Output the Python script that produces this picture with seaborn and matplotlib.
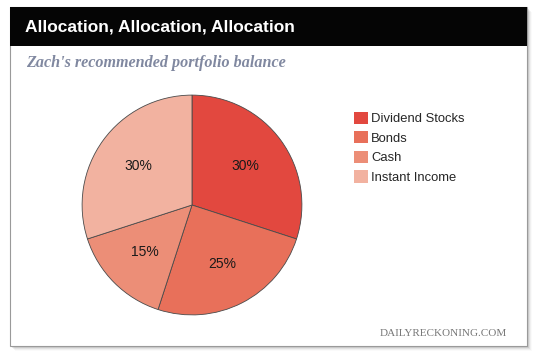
import matplotlib
matplotlib.use("Agg")
import matplotlib.pyplot as plt
import seaborn as sns
from matplotlib.patches import Rectangle, Patch

labels = ["Dividend Stocks", "Bonds", "Cash", "Instant Income"]
shares = [30, 25, 15, 30]
colors = ["#E2483F", "#E8705A", "#EC8E77", "#F2B2A0"]

sns.set_theme(style="white")
plt.rcParams["font.family"] = ["Liberation Sans", "DejaVu Sans"]

W, H = 540, 353
fig = plt.figure(figsize=(W / 100, H / 100), dpi=100)
fig.patch.set_facecolor("white")

def px(x, y):
    return x / W, 1 - y / H

# card box in pixels
x0, y0, x1, y1 = 10, 7, 527, 346

# drop shadow of the card
for i, a in enumerate([0.12, 0.09, 0.06, 0.04, 0.02]):
    off = 1 + i
    fig.patches.append(Rectangle(px(x0 + off, y1 + off), (x1 - x0) / W, (y1 - y0) / H,
                                 transform=fig.transFigure, facecolor="black",
                                 alpha=a, edgecolor="none", zorder=0))
# card
fig.patches.append(Rectangle(px(x0, y1), (x1 - x0) / W, (y1 - y0) / H, transform=fig.transFigure,
                             facecolor="white", edgecolor="#9a9a9a", lw=0.8, zorder=1))
# header bar
fig.patches.append(Rectangle(px(x0, 46), (x1 - x0) / W, 39 / H, transform=fig.transFigure,
                             facecolor="#050505", edgecolor="none", zorder=2))

fig.text(*px(25, 27), "Allocation, Allocation, Allocation", color="white",
         fontsize=12.5, fontweight="bold", va="center", ha="left", zorder=3)
fig.text(*px(26, 63), "Zach's recommended portfolio balance", color="#8088a0",
         fontsize=11.6, fontweight="bold", fontstyle="italic",
         family=["Liberation Serif", "DejaVu Serif"], va="center", ha="left", zorder=3)
fig.text(*px(507, 333), "DAILYRECKONING.COM", color="#777777", fontsize=8,
         family=["Liberation Serif", "DejaVu Serif"], va="center", ha="right", zorder=3)

# pie
ax = fig.add_axes([81 / W, 1 - 316 / H, 222 / W, 222 / H])
ax.set_zorder(4)
ax.pie(shares, colors=colors, startangle=90, counterclock=False,
       autopct=lambda p: f"{p:.0f}%", pctdistance=0.6,
       wedgeprops=dict(edgecolor="#4a4a4a", linewidth=0.6),
       textprops=dict(fontsize=10, color="#1a1a1a"))
ax.set_xlim(-1.01, 1.01)
ax.set_ylim(-1.01, 1.01)
ax.set_aspect("equal")
ax.axis("off")

handles = [Patch(facecolor=c, edgecolor="none") for c in colors]
leg = fig.legend(handles, labels, loc="upper left", bbox_to_anchor=px(354, 111.5),
                 frameon=False, fontsize=9.4, handlelength=1.07, handleheight=1.07,
                 handletextpad=0.23, labelspacing=0.46, borderpad=0, borderaxespad=0)
leg.set_zorder(5)

fig.savefig("out.png", dpi=100)
